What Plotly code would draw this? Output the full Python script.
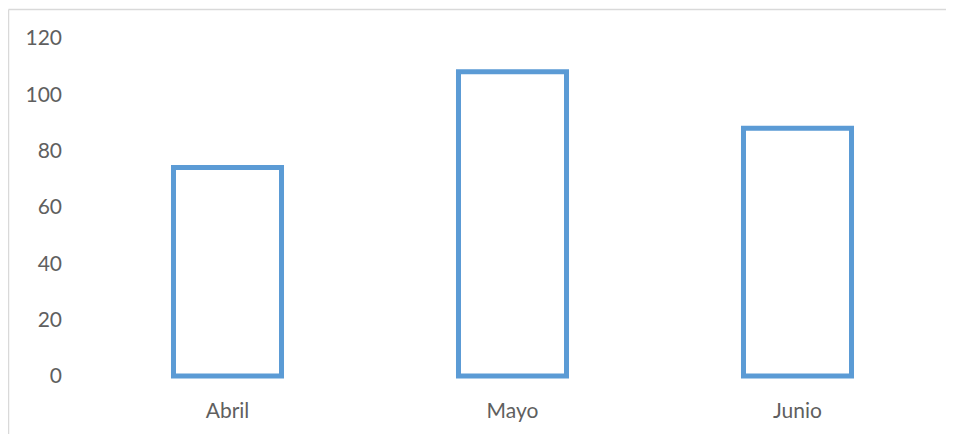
import plotly.graph_objects as go

categories = ["Abril", "Mayo", "Junio"]
values = [74, 108, 88]
y_ticks = [0, 20, 40, 60, 80, 100, 120]

W, H = 946, 426
ML, MR, MT, MB = 77, 14, 22, 50
pw, ph = W - ML - MR, H - MT - MB

def px_x(px):
    return (px - ML) / pw

def px_y(py):
    return (H - MB - py) / ph

fig = go.Figure(go.Bar(
    x=categories, y=values, width=0.379,
    marker=dict(color="rgba(255,255,255,0)", line=dict(color="#5B9BD5", width=5)),
    hoverinfo="x+y",
))

border = "#d9d9d9"
fig.add_shape(type="line", xref="paper", yref="paper",
              x0=px_x(0.5), x1=px_x(W + 2), y0=px_y(1.5), y1=px_y(1.5),
              line=dict(color=border, width=1.5))
fig.add_shape(type="line", xref="paper", yref="paper",
              x0=px_x(0.5), x1=px_x(0.5), y0=px_y(1.5), y1=px_y(H + 2),
              line=dict(color=border, width=1.5))

fig.update_layout(
    width=W, height=H,
    margin=dict(l=ML, r=MR, t=MT, b=MB, pad=0),
    paper_bgcolor="white", plot_bgcolor="white",
    font=dict(family="Lato, 'Open Sans', sans-serif", size=21, color="#5f5f5f"),
    showlegend=False,
    xaxis=dict(range=[-0.5, 2.5], showgrid=False, zeroline=False, showline=False,
               ticks="", ticklabelstandoff=12, fixedrange=True),
    yaxis=dict(range=[-2.84, 122.84], tickvals=y_ticks, showgrid=False, zeroline=False,
               showline=False, ticks="", ticklabelstandoff=22, fixedrange=True),
)

fig.write_html("out.html")
